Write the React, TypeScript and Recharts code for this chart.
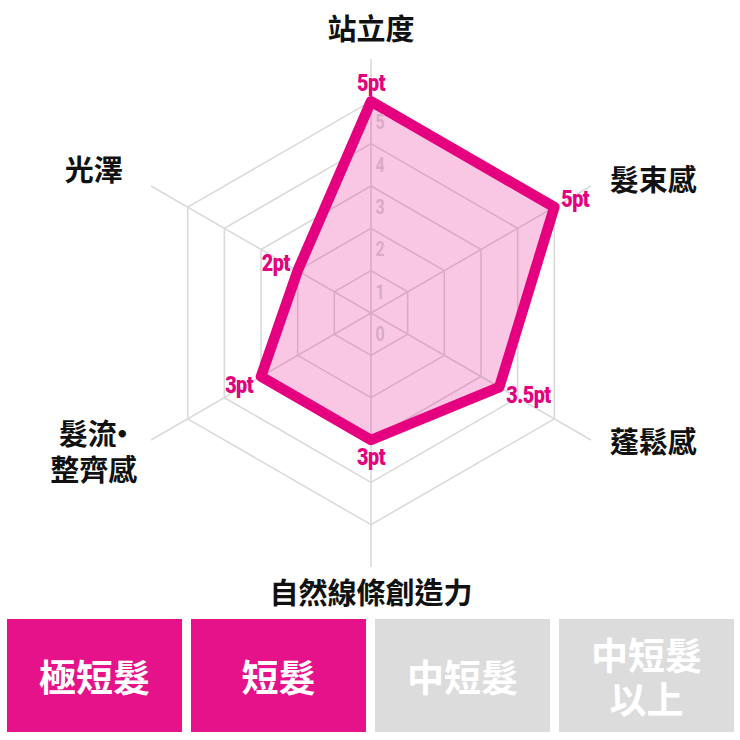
import React from "react";
import {
  RadarChart,
  Radar,
  PolarGrid,
  PolarAngleAxis,
  PolarRadiusAxis,
} from "recharts";

const categories = ["站立度", "髮束感", "蓬鬆感", "自然線條創造力", "髮流・整齊感", "光澤"];
const scores = [5, 5, 3.5, 3, 3, 2];
const radiusTicks = [0, 1, 2, 3, 4, 5];
const hairLengths = ["極短髮", "短髮", "中短髮", "中短髮\n以上"];
const activeLengths = [true, true, false, false];

const MAGENTA = "#e4007f";
const BOX_PINK = "#e5128a";
const BOX_GREY = "#dcdcdc";
const CJK = "'Noto Sans CJK TC', 'Noto Sans CJK JP', sans-serif";
const NUM = "Roboto, 'Liberation Sans', sans-serif";

const CX = 371;
const CY = 313;
const OUTER = 254;

const data = categories.map((subject, i) => ({
  subject,
  value: scores[i],
}));

// category names around the web
function CategoryTick(props: any) {
  const { payload } = props;
  const rad = (payload.coordinate * Math.PI) / 180;
  const right = Math.cos(rad) > 0.1;
  const x = CX + Math.cos(rad) * (right ? 326 : 320);
  const y = CY - 4 - Math.sin(rad) * (right ? 262 : 282);
  const text: string = payload.value;
  const dot = text.indexOf("・");
  const lh = 36;
  const common = {
    textAnchor: "middle" as const,
    dominantBaseline: "central" as const,
    fontFamily: CJK,
    fontWeight: 700,
    fontSize: 29,
    fill: "#111",
  };
  if (dot < 0) {
    return (
      <text x={x} y={y} {...common}>
        {text}
      </text>
    );
  }
  return (
    <g>
      <text x={x + 4} y={y - lh / 2} {...common}>
        {text.slice(0, dot)}
        <tspan dx={-9}>・</tspan>
      </text>
      <text x={x} y={y + lh / 2} {...common}>
        {text.slice(dot + 1)}
      </text>
    </g>
  );
}

function RadiusTick(props: any) {
  const { x, y, payload } = props;
  const tx = x + 9;
  return (
    <text
      x={tx}
      y={y + 21}
      textAnchor="middle"
      dominantBaseline="central"
      fontFamily={NUM}
      fontWeight={700}
      fontSize={20}
      fill="#d9a9c8"
      transform={`translate(${tx} 0) scale(0.8 1) translate(${-tx} 0)`}
    >
      {payload.value}
    </text>
  );
}

// "5pt" style labels next to each vertex
function ValueLabel(props: any) {
  const { cx, cy, payload, index } = props;
  const dx = cx - CX;
  const dy = cy - CY;
  const len = Math.hypot(dx, dy) || 1;
  const ux = dx / len;
  const uy = dy / len;
  let x = cx;
  let y = cy;
  let anchor: "start" | "middle" | "end" = "middle";
  if (Math.abs(ux) < 0.1) {
    y = cy + (uy < 0 ? -18 : 17);
  } else {
    anchor = ux > 0 ? "start" : "end";
    x = cx + (ux > 0 ? 7 : -8);
    y = cy + uy * 16;
  }
  return (
    <text
      key={`pt-${index}`}
      x={x}
      y={y}
      textAnchor={anchor}
      dominantBaseline="central"
      fontFamily={NUM}
      fontWeight={900}
      fontSize={23}
      letterSpacing={-0.6}
      fill={MAGENTA}
      transform={`translate(${x} 0) scale(0.86 1) translate(${-x} 0)`}
    >
      {`${payload.value}pt`}
    </text>
  );
}

export default function App() {
  return (
    <div style={{ width: 740, height: 740, position: "relative", background: "#fff" }}>
      <style>{"body{margin:0}"}</style>
      <RadarChart
        width={740}
        height={619}
        cx={CX}
        cy={CY}
        outerRadius={OUTER}
        data={data}
        margin={{ top: 0, right: 0, bottom: 0, left: 0 }}
      >
        <PolarGrid stroke="#dadada" strokeWidth={1.6} gridType="polygon" />
        <PolarAngleAxis
          dataKey="subject"
          axisLine={false}
          tickLine={false}
          tick={<CategoryTick />}
        />
        <PolarRadiusAxis
          angle={90}
          type="number"
          domain={[0, 5.75]}
          ticks={radiusTicks}
          axisLine={false}
          tickLine={false}
          tick={<RadiusTick />}
        />
        <Radar
          dataKey="value"
          stroke={MAGENTA}
          strokeWidth={10.5}
          strokeLinejoin="round"
          fill={MAGENTA}
          fillOpacity={0.22}
          dot={(p: any) => <ValueLabel {...p} />}
          isAnimationActive={false}
        />
      </RadarChart>

      <div
        style={{
          position: "absolute",
          top: 619,
          left: 7,
          display: "flex",
          gap: 9,
        }}
      >
        {hairLengths.map((name, i) => (
          <div
            key={name}
            style={{
              width: 175,
              height: 113,
              background: activeLengths[i] ? BOX_PINK : BOX_GREY,
              color: "#fff",
              fontFamily: CJK,
              fontWeight: 700,
              fontSize: 37,
              lineHeight: "44px",
              display: "flex",
              flexDirection: "column",
              alignItems: "center",
              justifyContent: "center",
              textAlign: "center",
            }}
          >
            {name.split("\n").map((line) => (
              <div key={line}>{line}</div>
            ))}
          </div>
        ))}
      </div>
    </div>
  );
}
